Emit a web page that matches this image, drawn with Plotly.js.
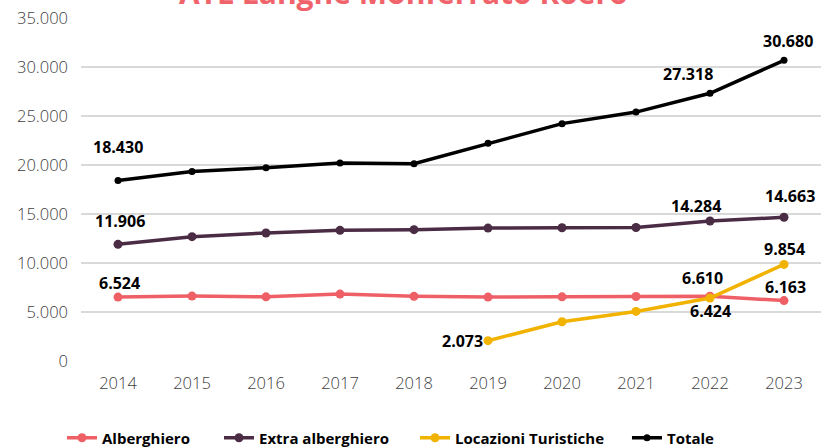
<!DOCTYPE html>
<html><head><meta charset="utf-8">
<script src="https://cdn.plot.ly/plotly-3.0.1.min.js"></script>
<style>html,body{margin:0;padding:0;background:#fff;}#chart{width:821px;height:448px;}</style>
</head><body><div id="chart"></div>
<script>
const years = ['2014','2015','2016','2017','2018','2019','2020','2021','2022','2023'];
const alberghiero = [6524, 6620, 6550, 6830, 6600, 6524, 6550, 6580, 6610, 6163];
const extraAlberghiero = [11906, 12690, 13060, 13330, 13400, 13560, 13600, 13620, 14284, 14663];
const locazioniTuristiche = [null, null, null, null, null, 2073, 4000, 5060, 6424, 9854];
const totale = [18430, 19340, 19720, 20200, 20130, 22220, 24220, 25400, 27318, 30680];
const seriesNames = ['Alberghiero', 'Extra alberghiero', 'Locazioni Turistiche', 'Totale'];
const seriesValues = [alberghiero, extraAlberghiero, locazioniTuristiche, totale];
const colors = ['#EE5F66', '#4B2C45', '#F2B200', '#000000'];
const markerSizes = [9, 9, 9, 7];
const yTicks = [0, 5000, 10000, 15000, 20000, 25000, 30000, 35000];
const titleText = 'ATL Langhe Monferrato Roero';

// labelled points: [series index, year index, xshift, yshift, xanchor]
const labelSpecs = [
  [3, 0, 0, 33, 'center'], [3, 8, -22, 19, 'center'], [3, 9, 4, 19, 'center'],
  [1, 0, 2, 23, 'center'], [1, 8, -14, 15, 'center'], [1, 9, 6, 21, 'center'],
  [0, 0, 1, 14, 'center'], [0, 8, -8, 18, 'center'], [0, 9, 1, 14, 'center'],
  [2, 5, -3, 0, 'right'], [2, 8, 0, -13, 'center'], [2, 9, 0, 15, 'center']
];
// legend left positions (paper x)
const legendX = [-0.0257, 0.1865, 0.4514, 0.7378];

function fmt(v){ return String(Math.round(v)).replace(/\B(?=(\d{3})+(?!\d))/g, '.'); }

const legendIds = ['legend', 'legend2', 'legend3', 'legend4'];
const traces = seriesNames.map((n, i) => ({
  type: 'scatter', mode: 'lines+markers', name: n,
  x: years, y: seriesValues[i],
  line: {color: colors[i], width: 3.5},
  marker: {color: colors[i], size: markerSizes[i]},
  connectgaps: false, hoverinfo: 'skip', legend: legendIds[i]
}));

const annotations = labelSpecs.map(s => ({
  x: s[1], y: seriesValues[s[0]][s[1]], xref: 'x', yref: 'y',
  text: '<b>' + fmt(seriesValues[s[0]][s[1]]) + '</b>', showarrow: false,
  xshift: s[2], yshift: s[3], xanchor: s[4], yanchor: 'middle',
  font: {family: 'Open Sans, sans-serif', size: 16, color: '#000'}
}));
annotations.push({
  xref: 'paper', yref: 'paper', x: 0.436, y: 1 + 3/343, yanchor: 'bottom', xanchor: 'center',
  text: '<b>' + titleText + '</b>', showarrow: false,
  font: {family: 'Open Sans, sans-serif', size: 30, color: '#F0636B'}
});

const layout = {
  width: 821, height: 448,
  margin: {l: 81, r: 0, t: 18, b: 87},
  paper_bgcolor: '#fff', plot_bgcolor: '#fff',
  showlegend: true,
  xaxis: {type: 'category', range: [-0.5, 9.5], showgrid: false, zeroline: false, showline: false,
    ticks: '', tickfont: {family: 'Open Sans, sans-serif', size: 16.5, color: '#404040', weight: 300},
    ticklabelstandoff: 10},
  yaxis: {range: [0, 35000], tickvals: yTicks, ticktext: yTicks.map(fmt),
    showgrid: true, gridcolor: '#D9D9D9', gridwidth: 1.8, zeroline: false, showline: false,
    ticks: '', tickfont: {family: 'Open Sans, sans-serif', size: 16.5, color: '#404040', weight: 300},
    ticklabelstandoff: 12},
  annotations: annotations
};
legendIds.forEach((id, i) => {
  layout[id] = {orientation: 'h', x: legendX[i], xref: 'paper', y: 10/448, yref: 'container',
    xanchor: 'left', yanchor: 'middle', bgcolor: 'rgba(0,0,0,0)',
    font: {family: 'Open Sans, sans-serif', size: 15, color: '#000', weight: 700}, itemwidth: 30};
});

Plotly.newPlot('chart', traces, layout, {displayModeBar: false, staticPlot: true});
</script></body></html>
